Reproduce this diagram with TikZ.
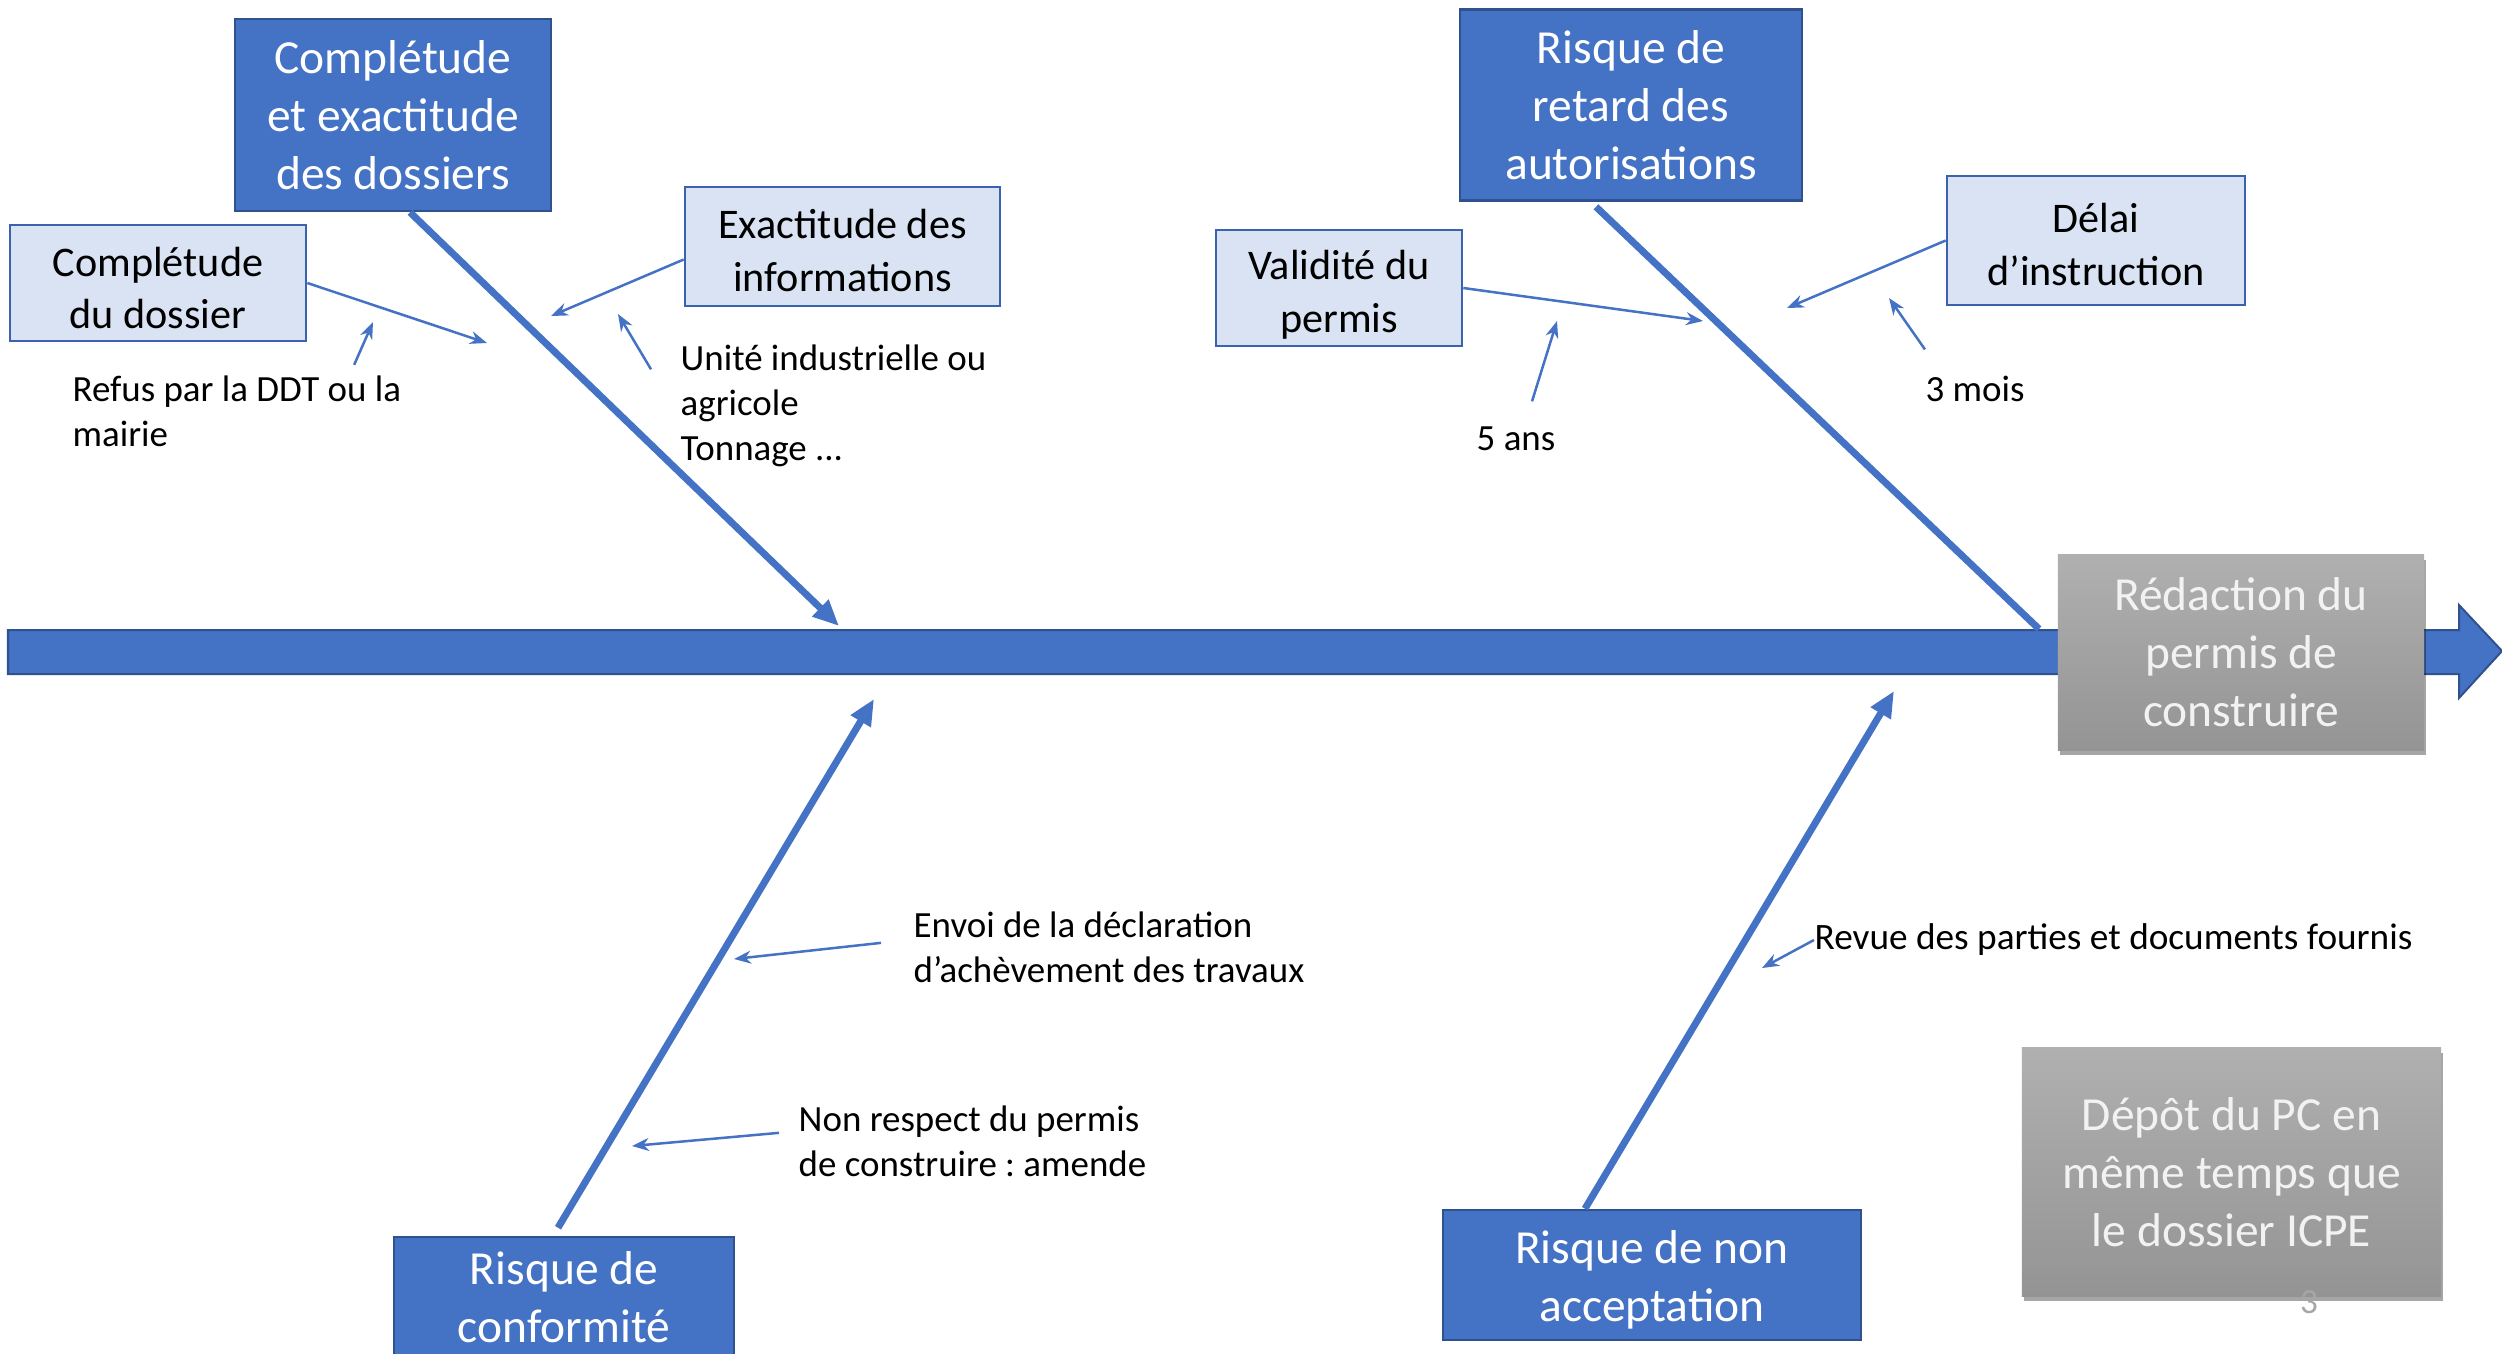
\documentclass[tikz,border=0pt]{standalone}
\usepackage{fontspec}
\setmainfont{Carlito}
\frenchspacing
\usetikzlibrary{arrows.meta,shadows}
\definecolor{accent}{HTML}{4472C4}
\definecolor{dborder}{HTML}{2F528F}
\definecolor{lborder}{HTML}{3A62AE}
\definecolor{lightfill}{HTML}{DAE3F3}
\definecolor{gtop}{HTML}{B0B0B0}
\definecolor{gbot}{HTML}{949494}
\definecolor{gtext}{HTML}{F2F2F2}
\definecolor{pagenum}{HTML}{A6A6A6}
\begin{document}
\begin{tikzpicture}[x=0.01cm,y=-0.01cm,
  bigbox/.style={draw=dborder, line width=0.025cm, fill=accent, text=white,
    font=\fontsize{13.5}{16.5}\selectfont, align=center, inner sep=0pt},
  bigtext/.style={text=white, font=\fontsize{13.5}{16.5}\selectfont, align=center, inner sep=0pt},
  lightbox/.style={draw=lborder, line width=0.025cm, fill=lightfill, inner sep=0pt},
  lighttext/.style={text=black, font=\fontsize{12}{15}\selectfont, align=center, inner sep=0pt, yshift=-0.04cm},
  graybox/.style={top color=gtop, bottom color=gbot, draw=none, text=gtext,
    font=\fontsize{13.5}{16.5}\selectfont, align=center, inner sep=0pt,
    drop shadow={shadow xshift=0.02cm, shadow yshift=-0.05cm, opacity=0.35, fill=black}},
  note/.style={font=\fontsize{10.5}{12.8}\selectfont, align=left, anchor=west, inner sep=0pt, text=black},
  bone/.style={draw=accent, line width=0.07cm},
  bonearrow/.style={bone, -{Triangle[length=0.26cm,width=0.22cm]}},
  thinarrow/.style={draw=accent, line width=0.025cm, -{Stealth[length=0.17cm,width=0.13cm]}}
]
\useasboundingbox (0,0) rectangle (2502,1354);

% spine
\filldraw[fill=accent, draw=dborder, line width=0.02cm]
  (8,630) -- (2459,630) -- (2459,605) -- (2502,651) -- (2459,698) -- (2459,674) -- (8,674) -- cycle;

% coordinates for bone ends
\coordinate (b1e) at (839,626);
\coordinate (b2e) at (2039,629);
\coordinate (b3e) at (874,699);
\coordinate (b4e) at (1894,691);

% main category boxes
\node[bigbox, minimum width=3.16cm, minimum height=1.92cm] (box1) at (393,115)
  {Complétude\\et exactitude\\des dossiers};
\node[bigbox, minimum width=3.42cm, minimum height=1.91cm] (box2) at (1631,105)
  {Risque de\\retard des\\autorisations};
\node[bigbox, minimum width=3.40cm, minimum height=1.30cm,
  label={[bigtext, yshift=0.05cm]center:{Risque de\\conformité}}] (box3) at (564,1302) {};
\node[bigbox, minimum width=4.18cm, minimum height=1.30cm,
  label={[bigtext, yshift=-0.05cm]center:{Risque de non\\acceptation}}] (box4) at (1652,1275) {};

% bones
\draw[bonearrow] ([xshift=0.17cm]box1.south) -- (b1e);
\draw[bone] ([xshift=-0.35cm,yshift=-0.05cm]box2.south) -- (b2e);
\draw[bonearrow] ([xshift=-0.06cm,yshift=0.08cm]box3.north) -- (b3e);
\draw[bonearrow] ([xshift=-0.67cm]box4.north) -- (b4e);

% sub-cause boxes
\node[lightbox, minimum width=2.96cm, minimum height=1.16cm,
  label={[lighttext, yshift=-0.01cm]center:{Complétude\\du dossier}}] (la) at (158,283) {};
\node[lightbox, minimum width=3.15cm, minimum height=1.19cm,
  label={[lighttext]center:{Exactitude des\\informations}}] (lb) at (842.5,246.5) {};
\node[lightbox, minimum width=2.46cm, minimum height=1.16cm,
  label={[lighttext, yshift=-0.03cm]center:{Validité du\\permis}}] (lc) at (1339,288) {};
\node[lightbox, minimum width=2.98cm, minimum height=1.29cm,
  label={[lighttext]center:{Délai\\d’instruction}}] (ld) at (2096,240.5) {};

% effect boxes
\node[graybox, minimum width=3.66cm, minimum height=1.95cm] (g1) at (2241,652.5)
  {Rédaction du\\permis de\\construire};
\node[graybox, minimum width=4.19cm, minimum height=2.48cm] (g2) at (2231.5,1172)
  {Dépôt du PC en\\même temps que\\le dossier ICPE};
\node[font=\fontsize{10}{12}\selectfont, text=pagenum, inner sep=0pt] (pg) at (2309,1302) {3};

% notes
\node[note] (refus) at (72,411) {Refus par la DDT ou la\\mairie};
\node[note] (unite) at (680,406) {Unité industrielle ou\\agricole\\Tonnage ...};
\node[note, anchor=center] (ans) at (1516,439) {5 ans};
\node[note, anchor=center] (mois) at (1975,389) {3 mois};
\node[note] (envoi) at (913,947) {Envoi de la déclaration\\d’achèvement des travaux};
\node[note] (nonr) at (798,1141) {Non respect du permis\\de construire : amende};
\node[note, font=\fontsize{10.6}{12.8}\selectfont] (revue) at (1814,940) {Revue des parties et documents fournis};

% arrow end coordinates
\coordinate (ta) at (487,343);
\coordinate (tb) at (551,316);
\coordinate (tc) at (1703,321);
\coordinate (td) at (1787,308);
\coordinate (trefus) at (373,322);
\coordinate (tunite) at (618,314);
\coordinate (tans) at (1557,321);
\coordinate (tmois) at (1889,298);
\coordinate (tenvoi) at (734,959);
\coordinate (tnonr) at (632,1146);
\coordinate (trevue) at (1762,968);

% thin arrows
\draw[thinarrow] (la.east) -- (ta);
\draw[thinarrow] ([yshift=-0.13cm]lb.west) -- (tb);
\draw[thinarrow] (lc.east) -- (tc);
\draw[thinarrow] (ld.west) -- (td);
\draw[thinarrow] ([xshift=2.82cm,yshift=0.1cm]refus.north west) -- (trefus);
\draw[thinarrow] ([xshift=-0.29cm,yshift=-0.25cm]unite.north west) -- (tunite);
\draw[thinarrow] ([xshift=0.16cm,yshift=0.25cm]ans.north) -- (tans);
\draw[thinarrow] ([xshift=-0.5cm,yshift=0.26cm]mois.north) -- (tmois);
\draw[thinarrow] ([xshift=-0.32cm,yshift=-0.32cm]envoi.north west) -- (tenvoi);
\draw[thinarrow] ([xshift=-0.19cm,yshift=-0.28cm]nonr.north west) -- (tnonr);
\draw[thinarrow] (revue.west) -- (trevue);
\end{tikzpicture}
\end{document}
